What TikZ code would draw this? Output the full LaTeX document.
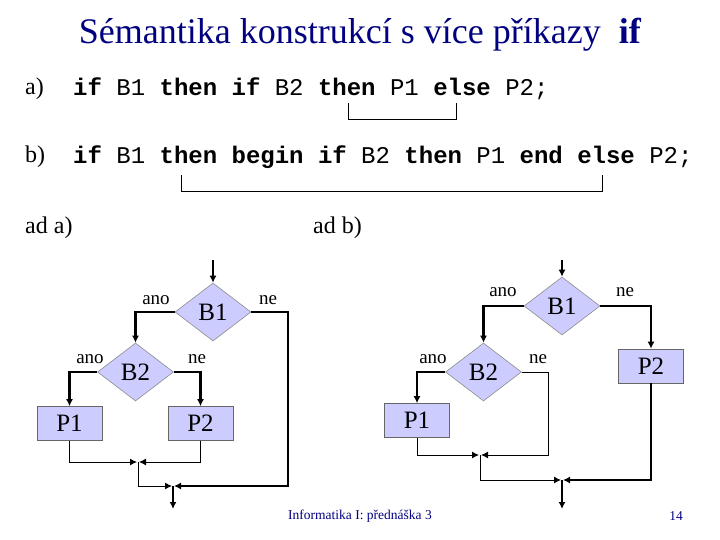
\documentclass[tikz,border=0pt]{standalone}
\usepackage{fontspec}
\setmainfont{Liberation Serif}
\setmonofont{Liberation Mono}
\usetikzlibrary{shapes.geometric,arrows.meta}
\definecolor{lav}{RGB}{204,204,255}
\definecolor{navyc}{RGB}{0,0,128}
\newcommand{\kw}[1]{\textbf{#1}}
\begin{document}
\begin{tikzpicture}[x=1pt,y=-1pt,
  dia/.style={diamond,fill=lav,draw=black!45,line width=0.6pt,minimum width=76pt,minimum height=58pt,inner sep=0pt,font=\fontsize{25}{25}\selectfont},
  box/.style={rectangle,fill=lav,draw=black!60,line width=0.6pt,minimum width=65pt,minimum height=34pt,inner sep=0pt,font=\fontsize{25}{25}\selectfont},
  lbl/.style={font=\fontsize{19}{19}\selectfont,inner sep=0pt},
  thk/.style={line width=2.4pt,-{Latex[length=7pt,width=7pt]}},
  thkl/.style={line width=2.4pt},
  thn/.style={line width=1pt,-{Latex[length=7pt,width=7pt]},shorten >=1pt},
  thnl/.style={line width=1pt},
  code/.style={anchor=west,inner sep=0pt,font=\fontsize{24}{24}\ttfamily},
  txt/.style={anchor=west,inner sep=0pt,font=\fontsize{24}{24}\selectfont}]
\useasboundingbox (0,0) rectangle (720,540);
% title
\node[text=navyc,font=\fontsize{36}{40}\selectfont] (title) at (360,35) {Sémantika konstrukcí s více příkazy~~\textbf{if}};
% code lines
\node[txt] (la) at (25,89) {a)};
\node[code] (ca) at (73,89) {\kw{if} B1 \kw{then} \kw{if} B2 \kw{then} P1 \kw{else} P2;};
\node[txt] (lb) at (25,157) {b)};
\node[code] (cb) at (73,157) {\kw{if} B1 \kw{then} \kw{begin} \kw{if} B2 \kw{then} P1 \kw{end} \kw{else} P2;};
% brackets
\draw[line width=1pt] (348,103) -- (348,120) -- (456,120) -- (456,103);
\draw[line width=1pt] (181,175) -- (181,192) -- (602,192) -- (602,175);
\node[txt] (ada) at (25,228) {ad a)};
\node[txt] (adb) at (313,228) {ad b)};
% ---------------- left chart
\node[dia] (aB1) at (213,312) {B1};
\node[dia] (aB2) at (135.5,372) {B2};
\node[box] (aP1) at (69.5,423.5) {P1};
\node[box] (aP2) at (200.5,423.5) {P2};
\node[lbl] (aano1) at (156,300) {ano};
\node[lbl] (ane1) at (268,300) {ne};
\node[lbl] (aano2) at (90,359) {ano};
\node[lbl] (ane2) at (197,359) {ne};
\coordinate (a0) at (213,260);
\coordinate (aR) at (288,486);
\coordinate (aM1) at (138,462);
\coordinate (aM2) at (173,486);
\coordinate (aOut) at (173,509);
\draw[thk] (a0) -- (aB1.north);
\draw[thk] (aB1.west) -| (aB2.north);
\draw[thk] (aB2.west) -| (aP1.north);
\draw[thk] (aB2.east) -| (aP2.north);
\draw[thk,shorten >=1pt] (aB1.east) -| (aR) -- (aM2);
\draw[thn] (aP1.south) |- (aM1);
\draw[thn] (aP2.south) |- (aM1);
\draw[thn] (aM1) |- (aM2);
\draw[thk] (aM2) -- (aOut);
% ---------------- right chart
\node[dia] (bB1) at (562,306) {B1};
\node[dia] (bB2) at (483.5,372) {B2};
\node[box] (bP1) at (417,420.5) {P1};
\node[box] (bP2) at (651,366) {P2};
\node[lbl] (bano1) at (503,292) {ano};
\node[lbl] (bne1) at (625,292) {ne};
\node[lbl] (bano2) at (433,359) {ano};
\node[lbl] (bne2) at (538,359) {ne};
\coordinate (b0) at (562,260);
\coordinate (bR) at (548,455);
\coordinate (bM1) at (480,455);
\coordinate (bM2) at (562,480);
\coordinate (bOut) at (562,509);
\draw[thk] (b0) -- (bB1.north);
\draw[thk] (bB1.west) -| (bB2.north);
\draw[thk] (bB2.west) -| (bP1.north);
\draw[thn] (bB2.east) -| (bR) -- (bM1);
\draw[thn] (bP1.south) |- (bM1);
\draw[thk] (bB1.east) -| (bP2.north);
\draw[thk,shorten >=1pt] (bP2.south) |- (bM2);
\draw[thn] (bM1) |- (bM2);
\draw[thk] (bM2) -- (bOut);
% footer
\node[text=navyc,font=\fontsize{13.5}{14}\selectfont,inner sep=0pt] (foot) at (360,516) {Informatika I: přednáška 3};
\node[text=navyc,font=\fontsize{13.5}{14}\selectfont,inner sep=0pt] (pg) at (676,516) {14};
\end{tikzpicture}
\end{document}
